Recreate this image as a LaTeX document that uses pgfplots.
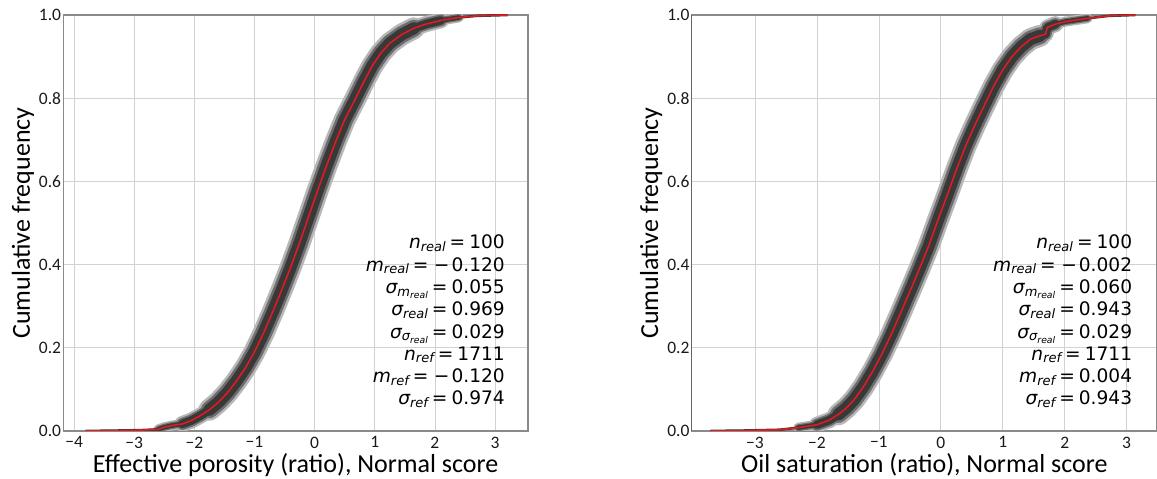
\documentclass[border=0pt]{standalone}
\usepackage{pgfplots}
\pgfplotsset{compat=1.18}
\usepackage{pgfplotstable}
\usepackage{fontspec}
\setmainfont{Carlito}
\newfontfamily\dejavu{DejaVu Sans}
\definecolor{bandcore}{HTML}{383838}
\definecolor{bandmid}{HTML}{6E6E6E}
\definecolor{bandout}{HTML}{B8B8B8}
\definecolor{refred}{HTML}{E8191E}
\definecolor{spine}{HTML}{8A8A8A}
\definecolor{gridc}{HTML}{D2D2D2}

\newcommand{\anfs}{\fontsize{18.6}{18.6}\selectfont}
\newcommand{\sbs}[1]{\raisebox{-2.6pt}{\fontsize{13}{13}\selectfont\itshape #1}}
\newcommand{\sbsub}[2]{\raisebox{-2.6pt}{\fontsize{13}{13}\selectfont\itshape #1\raisebox{-2.4pt}{\fontsize{9.3}{9.3}\selectfont #2}}}
\newcommand{\eq}{\hspace{4pt}=\hspace{4pt}}
\newcommand{\eqm}{\hspace{4pt}=\hspace{5.5pt}−\hspace{2pt}}

% reference CDF, effective porosity (normal score)
\pgfplotstableread{
x y
-3.81 0.000
-3.30 0.001
-2.90 0.002
-2.60 0.004
-2.50 0.009
-2.38 0.013
-2.20 0.017
-2.05 0.025
-1.90 0.037
-1.75 0.051
-1.60 0.069
-1.45 0.092
-1.30 0.120
-1.15 0.152
-1.00 0.190
-0.85 0.235
-0.70 0.285
-0.55 0.338
-0.40 0.393
-0.25 0.452
-0.10 0.515
0.05 0.578
0.20 0.638
0.35 0.695
0.50 0.748
0.67 0.796
0.82 0.840
0.96 0.878
1.10 0.908
1.25 0.932
1.45 0.953
1.65 0.968
1.85 0.978
2.10 0.987
2.40 0.994
2.70 0.998
3.21 1.000
}\refL

% reference CDF, oil saturation (normal score)
\pgfplotstableread{
x y
-3.72 0.000
-3.20 0.001
-2.60 0.003
-2.30 0.008
-2.00 0.015
-1.80 0.026
-1.65 0.040
-1.52 0.056
-1.40 0.075
-1.25 0.106
-1.10 0.143
-0.95 0.185
-0.80 0.232
-0.65 0.283
-0.50 0.335
-0.35 0.388
-0.20 0.443
-0.05 0.505
0.10 0.565
0.25 0.627
0.40 0.685
0.55 0.735
0.70 0.782
0.85 0.828
1.00 0.868
1.15 0.900
1.30 0.924
1.45 0.942
1.60 0.950
1.69 0.954
1.72 0.970
1.85 0.978
2.01 0.984
2.37 0.992
2.72 0.998
3.14 1.000
}\refR

\pgfplotsset{cdfaxis/.style={
  scale only axis, height=416pt,
  ymin=0, ymax=1,
  ytick={0,0.2,0.4,0.6,0.8,1}, yticklabels={0.0,0.2,0.4,0.6,0.8,1.0},
  major tick length=0pt,
  grid=major, grid style={gridc, line width=0.6pt},
  axis line style={spine, line width=1.3pt},
  tick label style={font=\fontsize{17.5}{17.5}\selectfont, text=black!90},
  yticklabel style={anchor=east, inner sep=0pt, xshift=-2pt},
  xticklabel style={anchor=north, inner sep=0pt, yshift=-5.5pt},
  label style={font=\fontsize{26}{26}\selectfont},
  xlabel style={at={(axis description cs:0.5,-0.1)}, anchor=base},
  ylabel style={at={(axis description cs:-0.072,0.5)}, anchor=base},
  ylabel={Cumulative frequency},
  band/.style={line cap=round, line join=round},
}}

\begin{document}
\begin{tikzpicture}
\useasboundingbox (0,0) rectangle (1157pt,479pt);

\begin{axis}[cdfaxis, at={(63.3pt,48pt)}, anchor=south west, width=464.7pt,
  xmin=-4.18, xmax=3.55,
  xtick={-4,-3,-2,-1,0,1,2,3}, xticklabels={−4,−3,−2,−1,0,1,2,3},
  xlabel={Effective porosity (ratio), Normal score}]
% spread of the 100 realizations (outer, middle, core), tapered at the tails
\addplot[band, bandout, line width=10pt, restrict x to domain=-2.6:2.5] table {\refL};
\addplot[band, bandout, line width=16pt, restrict x to domain=-2.25:2.1] table {\refL};
\addplot[band, bandout, line width=22pt, restrict x to domain=-1.85:1.75] table {\refL};
\addplot[band, bandmid, line width=7pt, restrict x to domain=-2.6:2.5] table {\refL};
\addplot[band, bandmid, line width=12pt, restrict x to domain=-2.25:2.1] table {\refL};
\addplot[band, bandmid, line width=17pt, restrict x to domain=-1.85:1.75] table {\refL};
\addplot[band, bandcore, line width=4.5pt, restrict x to domain=-2.6:2.5] table {\refL};
\addplot[band, bandcore, line width=8.5pt, restrict x to domain=-2.25:2.1] table {\refL};
\addplot[band, bandcore, line width=12pt, restrict x to domain=-1.85:1.75] table {\refL};
\addplot[bandcore, line width=2.6pt] table {\refL};
\addplot[refred, line width=1.5pt] table {\refL};
\begin{scope}[every node/.style={anchor=base east, inner sep=0pt, font=\dejavu\anfs}]
\node at (axis description cs:0.9505,0.4375) {{\itshape n}\sbs{real}\eq 100};
\node at (axis description cs:0.9505,0.3840) {{\itshape m}\sbs{real}\eqm 0.120};
\node at (axis description cs:0.9505,0.3305) {{\itshape σ}\sbsub{m}{real}\eq 0.055};
\node at (axis description cs:0.9505,0.2770) {{\itshape σ}\sbs{real}\eq 0.969};
\node at (axis description cs:0.9505,0.2235) {{\itshape σ}\sbsub{σ}{real}\eq 0.029};
\node at (axis description cs:0.9505,0.1700) {{\itshape n}\sbs{ref}\eq 1711};
\node at (axis description cs:0.9505,0.1165) {{\itshape m}\sbs{ref}\eqm 0.120};
\node at (axis description cs:0.9505,0.0630) {{\itshape σ}\sbs{ref}\eq 0.974};
\end{scope}
\end{axis}

\begin{axis}[cdfaxis, at={(691.7pt,48pt)}, anchor=south west, width=465.3pt,
  xmin=-4.02, xmax=3.49,
  xtick={-3,-2,-1,0,1,2,3}, xticklabels={−3,−2,−1,0,1,2,3},
  xlabel={Oil saturation (ratio), Normal score}]
\addplot[band, bandout, line width=10pt, restrict x to domain=-2.5:2.5] table {\refR};
\addplot[band, bandout, line width=16pt, restrict x to domain=-2.1:2.0] table {\refR};
\addplot[band, bandout, line width=22pt, restrict x to domain=-1.7:1.6] table {\refR};
\addplot[band, bandmid, line width=7pt, restrict x to domain=-2.5:2.5] table {\refR};
\addplot[band, bandmid, line width=12pt, restrict x to domain=-2.1:2.0] table {\refR};
\addplot[band, bandmid, line width=17pt, restrict x to domain=-1.7:1.6] table {\refR};
\addplot[band, bandcore, line width=4.5pt, restrict x to domain=-2.5:2.5] table {\refR};
\addplot[band, bandcore, line width=8.5pt, restrict x to domain=-2.1:2.0] table {\refR};
\addplot[band, bandcore, line width=12pt, restrict x to domain=-1.7:1.6] table {\refR};
\addplot[bandcore, line width=2.6pt] table {\refR};
\addplot[refred, line width=1.5pt] table {\refR};
\begin{scope}[every node/.style={anchor=base east, inner sep=0pt, font=\dejavu\anfs}]
\node at (axis description cs:0.9469,0.4375) {{\itshape n}\sbs{real}\eq 100};
\node at (axis description cs:0.9469,0.3840) {{\itshape m}\sbs{real}\eqm 0.002};
\node at (axis description cs:0.9469,0.3305) {{\itshape σ}\sbsub{m}{real}\eq 0.060};
\node at (axis description cs:0.9469,0.2770) {{\itshape σ}\sbs{real}\eq 0.943};
\node at (axis description cs:0.9469,0.2235) {{\itshape σ}\sbsub{σ}{real}\eq 0.029};
\node at (axis description cs:0.9469,0.1700) {{\itshape n}\sbs{ref}\eq 1711};
\node at (axis description cs:0.9469,0.1165) {{\itshape m}\sbs{ref}\eq 0.004};
\node at (axis description cs:0.9469,0.0630) {{\itshape σ}\sbs{ref}\eq 0.943};
\end{scope}
\draw[black!85, line width=1.3pt] (rel axis cs:0,0) -- (rel axis cs:0,1);
\end{axis}
\end{tikzpicture}
\end{document}
